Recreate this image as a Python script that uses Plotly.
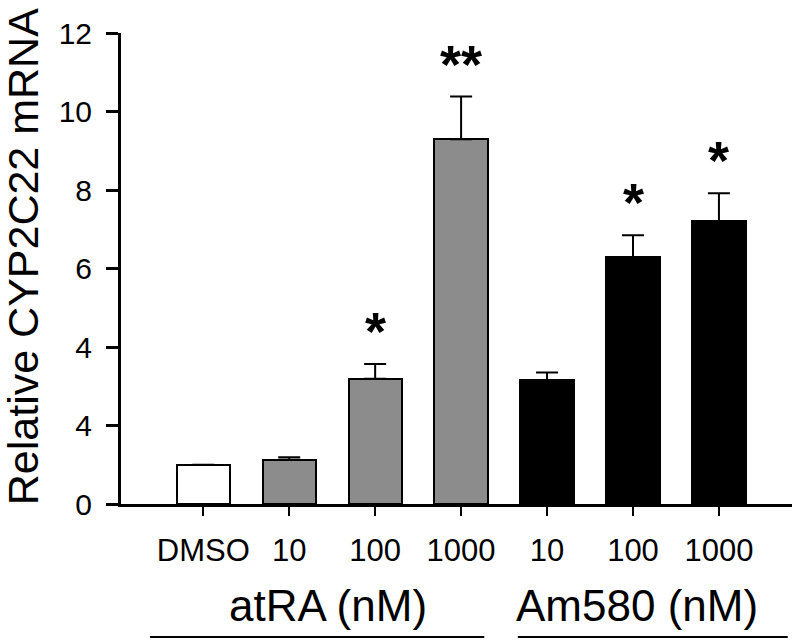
import plotly.graph_objects as go

# ---- data ----
categories = ["DMSO", "10", "100", "1000", "10", "100", "1000"]
values = [1.00, 1.13, 3.19, 9.29, 3.15, 6.29, 7.21]
errors = [0.0, 0.06, 0.38, 1.09, 0.20, 0.56, 0.71]
bar_colors = ["#ffffff", "#8c8c8c", "#8c8c8c", "#8c8c8c", "#000000", "#000000", "#000000"]
significance = ["", "", "*", "**", "", "*", "*"]
ytick_vals = [0, 2, 4, 6, 8, 10, 12]
ytick_text = ["0", "4", "4", "6", "8", "10", "12"]
group_names = ["atRA (nM)", "Am580 (nM)"]
group_label_x = [1.45, 5.05]
group_line_x = [(-0.62, 3.27), (3.66, 6.80)]
y_title = "Relative CYP2C22 mRNA"

FONT = "Liberation Sans, Arial, sans-serif"
xpos = list(range(len(categories)))
X_RANGE = [-0.957, 6.85]

def x_to_paper(v):
    return (v - X_RANGE[0]) / (X_RANGE[1] - X_RANGE[0])

fig = go.Figure()
fig.add_trace(go.Bar(
    x=xpos, y=values, width=0.62,
    marker=dict(color=bar_colors, line=dict(color="black", width=2)),
    error_y=dict(type="data", symmetric=False, array=errors,
                 arrayminus=[0] * len(errors), color="black",
                 thickness=2, width=11),
    showlegend=False, hoverinfo="skip",
))

annotations = []
for x, v, e, s in zip(xpos, values, errors, significance):
    if s:
        annotations.append(dict(x=x, y=v + e, xref="x", yref="y", text="<b>%s</b>" % s,
                                showarrow=False, yanchor="bottom",
                                font=dict(family=FONT, size=54, color="black"),
                                yshift=1))

for name, lx in zip(group_names, group_label_x):
    annotations.append(dict(x=lx, y=-0.215, xref="x", yref="paper", text=name,
                            showarrow=False, yanchor="middle",
                            font=dict(family=FONT, size=44, color="black")))

annotations.append(dict(x=-0.1468, y=0.525, xref="paper", yref="paper", text=y_title,
                        textangle=-90, showarrow=False, xanchor="center", yanchor="middle",
                        height=42,
                        font=dict(family=FONT, size=43, color="black")))

shapes = []
for (x0, x1) in group_line_x:
    shapes.append(dict(type="line", xref="paper", yref="paper",
                       x0=x_to_paper(x0), x1=x_to_paper(x1),
                       y0=-0.2824, y1=-0.2824, line=dict(color="black", width=2)))

fig.update_layout(
    width=797, height=642,
    margin=dict(l=121, r=5, t=33, b=138),
    paper_bgcolor="white", plot_bgcolor="white",
    font=dict(family=FONT, color="black"),
    bargap=0,
    annotations=annotations,
    shapes=shapes,
    xaxis=dict(range=X_RANGE, tickmode="array", tickvals=xpos,
               ticktext=categories, showgrid=False, zeroline=False,
               showline=True, linecolor="black", linewidth=3,
               ticks="outside", ticklen=9, tickwidth=2, tickcolor="black",
               tickfont=dict(family=FONT, size=31, color="black"),
               ticklabelstandoff=8),
    yaxis=dict(range=[0, 12], tickmode="array", tickvals=ytick_vals,
               ticktext=ytick_text, showgrid=False, zeroline=False,
               showline=True, linecolor="black", linewidth=3,
               ticks="outside", ticklen=12, tickwidth=2.5, tickcolor="black",
               tickfont=dict(family=FONT, size=30, color="black"),
               ticklabelstandoff=8),
)

fig.write_html("out.html", config={"displayModeBar": False},
               post_script="document.body.style.margin='0';")
